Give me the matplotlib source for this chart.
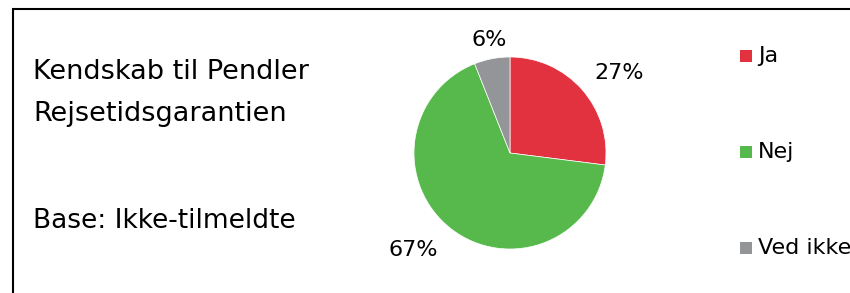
import matplotlib
matplotlib.use("Agg")
import matplotlib.pyplot as plt
from matplotlib.patches import Rectangle
import numpy as np

categories = ["Ja", "Nej", "Ved ikke"]
values = [27, 67, 6]
colors = ["#E3323F", "#57B94B", "#939598"]
title_lines = ["Kendskab til Pendler", "Rejsetidsgarantien"]
base_text = "Base: Ikke-tilmeldte"

W, H = 850, 293
DPI = 100
plt.rcParams['font.family'] = ['DejaVu Sans']
fig = plt.figure(figsize=(W / DPI, H / DPI), dpi=DPI)
fig.patch.set_facecolor("white")

def fx(px):
    return px / W

def fy(py):
    return 1 - py / H

# outer border (extends past right and bottom edges)
fig.patches.append(Rectangle((fx(13), fy(300)), fx(900), 291 / H, transform=fig.transFigure,
                             fill=False, edgecolor="black", linewidth=1.5, zorder=0))

# Title text
fig.text(fx(33), fy(79), title_lines[0], fontsize=19.5, va="baseline", ha="left")
fig.text(fx(33), fy(121), title_lines[1], fontsize=19.5, va="baseline", ha="left")
fig.text(fx(33), fy(228), base_text, fontsize=19, va="baseline", ha="left")

# Pie
cx, cy, r = 510, 153, 96
ax = fig.add_axes([fx(cx - r), fy(cy + r), 2 * r / W, 2 * r / H])
wedges, _ = ax.pie(values, colors=colors, startangle=90, counterclock=False,
                   wedgeprops=dict(linewidth=0.5, edgecolor="white"))
ax.set_xlim(-1, 1)
ax.set_ylim(-1, 1)
ax.set_aspect("auto")
ax.axis("off")

# label placement: distance (in radii) and angular shift from wedge middle (degrees)
label_dist = [1.41, 1.425, 1.20]
label_shift = [-5.1, -7.0, -0.3]
for w, v, d, s in zip(wedges, values, label_dist, label_shift):
    ang = np.deg2rad((w.theta1 + w.theta2) / 2 + s)
    ax.text(d * np.cos(ang), d * np.sin(ang), f"{v}%", ha="center", va="center",
            fontsize=16, clip_on=False)

# Legend
leg_x = 740
leg_y0 = 56
leg_step = 96
sq = 12
for i, (lab, col) in enumerate(zip(categories, colors)):
    y = leg_y0 + i * leg_step
    fig.patches.append(Rectangle((fx(leg_x), fy(y + sq / 2)), sq / W, sq / H,
                                 transform=fig.transFigure, facecolor=col, edgecolor="none"))
    fig.text(fx(leg_x + 18), fy(y), lab, fontsize=16, va="center", ha="left")

fig.savefig("out.png", dpi=DPI)
